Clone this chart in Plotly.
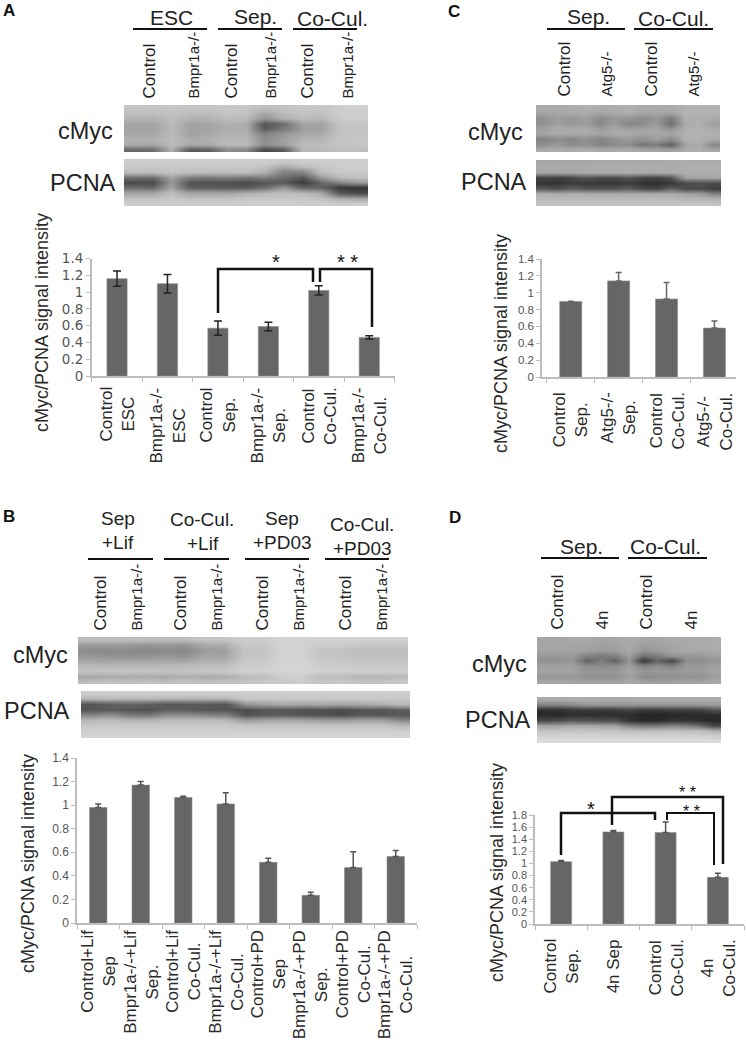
import plotly.graph_objects as go

FONT = "Liberation Sans"
INK = "#222222"
TICK = "#555555"
AXIS = "#bdbdbd"
BAR = "#666666"

# ---------- Bar chart data ----------
a_cats = ["Control<br>ESC", "Bmpr1a-/-<br>ESC", "Control<br>Sep.", "Bmpr1a-/-<br>Sep.", "Control<br>Co-Cul.", "Bmpr1a-/-<br>Co-Cul."]
a_vals = [1.16, 1.10, 0.57, 0.59, 1.02, 0.46]
a_errs = [0.09, 0.11, 0.085, 0.05, 0.055, 0.02]

b_cats = ["Control+Lif<br>Sep", "Bmpr1a-/-+Lif<br>Sep.", "Control+Lif<br>Co-Cul.", "Bmpr1a-/-+Lif<br>Co-Cul.",
          "Control+PD<br>Sep", "Bmpr1a-/-+PD<br>Sep.", "Control+PD<br>Co-Cul.", "Bmpr1a-/-+PD<br>Co-Cul."]
b_vals = [0.98, 1.17, 1.065, 1.01, 0.515, 0.235, 0.47, 0.565]
b_errs = [0.03, 0.03, 0.01, 0.095, 0.035, 0.025, 0.135, 0.05]

c_cats = ["Control<br>Sep.", "Atg5-/-<br>Sep.", "Control<br>Co-Cul.", "Atg5-/-<br>Co-Cul."]
c_vals = [0.895, 1.14, 0.925, 0.58]
c_errs = [0.005, 0.10, 0.195, 0.085]

d_cats = ["Control<br>Sep.", "4n Sep", "Control<br>Co-Cul.", "4n<br>Co-Cul."]
d_vals = [1.03, 1.52, 1.51, 0.77]
d_errs = [0.02, 0.025, 0.175, 0.07]

# ---------- Blot grey levels (rows top to bottom) ----------
a_cmyc = [
 [198,196,198,196,196,200,198,190,196,198,198,206,206],
 [192,192,196,190,190,198,194,170,188,196,194,206,206],
 [180,178,190,178,178,190,186,150,176,188,184,204,204],
 [166,164,186,164,166,176,174,85,110,164,164,196,198],
 [164,162,186,161,164,174,172,90,120,158,161,194,196],
 [166,166,186,161,166,178,176,130,150,166,172,194,196],
 [176,176,188,172,176,184,184,140,160,180,182,196,198],
 [170,165,188,170,172,186,186,140,160,188,188,196,198],
 [105,105,175,90,95,140,135,70,90,185,185,192,190],
]
a_pcna = [
 [205,205,205,205,205,205,205,205,200,205,205,205,205],
 [200,200,200,200,200,200,200,195,170,190,200,205,205],
 [190,190,195,190,190,190,190,175,130,130,190,200,200],
 [110,105,165,120,120,125,115,125,105,85,150,185,190],
 [75,75,150,85,80,80,75,85,90,60,100,130,150],
 [110,100,165,95,95,90,90,110,150,100,100,55,50],
 [165,165,190,165,165,165,175,185,190,185,170,90,75],
 [195,195,200,195,195,195,200,200,200,200,195,175,170],
 [205,205,205,205,205,205,205,205,205,205,205,205,205],
]
b_cmyc = [
 [190,190,190,190,190,190,196,196,205,205,210,210,208,208,208,208,208],
 [155,155,155,150,155,150,170,170,200,200,210,210,205,205,200,200,200],
 [140,138,140,135,140,135,157,157,195,195,210,210,195,195,190,190,190],
 [150,145,145,145,150,145,164,162,195,198,210,210,195,195,190,190,190],
 [167,162,164,164,167,164,178,173,200,200,210,212,200,200,195,195,195],
 [186,184,184,184,186,186,192,188,205,205,212,212,205,205,202,202,202],
 [195,195,195,195,195,195,198,198,208,208,212,212,208,208,206,206,206],
 [165,170,170,170,168,175,170,172,185,190,205,205,190,190,180,180,185],
 [190,195,190,195,190,195,190,195,195,200,200,205,195,200,195,195,200],
]
b_pcna = [
 [205,205,205,205,205,205,205,205,205,205,205,205,205,205,205,205,205],
 [180,185,185,185,180,180,180,180,200,200,200,200,200,200,200,200,200],
 [85,95,100,95,85,90,90,85,150,160,170,165,170,165,170,175,185],
 [85,90,85,80,95,90,85,85,75,85,85,80,80,75,85,85,95],
 [130,140,120,115,140,140,130,125,80,90,90,85,80,75,85,85,85],
 [180,185,175,175,185,185,185,180,150,160,165,160,150,150,155,155,130],
 [200,200,200,200,200,200,200,200,195,195,195,195,195,195,195,195,185],
 [208,208,208,208,208,208,208,208,208,208,208,208,208,208,208,208,205],
 [212,212,212,212,212,212,212,212,212,212,212,212,212,212,212,212,212],
]
c_cmyc = [
 [170,170,172,176,172,172,176,170,170,170,178,178,178],
 [165,168,170,172,165,170,176,165,168,165,178,178,178],
 [145,158,150,160,140,152,152,140,152,125,175,175,170],
 [145,160,153,157,135,157,130,140,157,110,170,175,157],
 [160,170,168,170,155,168,160,160,165,145,175,178,170],
 [165,170,170,170,165,170,172,165,168,165,178,178,178],
 [130,142,135,145,132,145,152,145,157,140,175,178,170],
 [142,155,140,146,132,140,145,115,125,95,162,170,135],
 [170,172,172,172,170,170,172,165,165,160,172,175,165],
]
c_pcna = [
 [165,165,165,168,168,168,170,168,168,170,172,172,172],
 [170,170,170,172,172,172,174,172,172,172,175,175,175],
 [165,165,165,170,170,170,172,170,170,170,175,175,175],
 [65,62,70,85,75,75,85,68,65,85,160,165,165],
 [55,52,60,58,55,55,60,50,50,55,75,80,75],
 [90,80,95,85,85,85,95,75,70,100,75,75,60],
 [175,170,175,172,170,172,172,170,170,172,160,155,130],
 [185,185,185,185,185,185,185,185,185,185,182,182,178],
 [195,195,195,195,195,195,195,195,195,195,195,195,195],
]
d_cmyc = [
 [165,165,168,168,165,165,170,165,165,170,170,170,172],
 [165,165,165,165,160,162,168,160,160,165,170,170,172],
 [165,165,165,162,155,158,168,150,155,165,168,168,170],
 [150,150,155,130,120,130,160,115,125,150,150,150,160],
 [145,145,150,100,125,95,150,55,100,70,140,140,150],
 [160,160,162,140,140,140,160,130,140,130,155,152,160],
 [162,162,162,150,150,150,165,150,152,152,155,155,165],
 [150,150,152,145,145,145,160,140,142,145,145,145,155],
 [165,165,165,160,160,160,170,160,160,160,162,162,170],
]
d_pcna = [
 [170,170,172,172,170,170,170,172,172,172,172,172,172],
 [130,130,140,150,150,150,150,150,150,150,150,150,155],
 [50,50,55,60,55,60,70,60,60,65,65,65,85],
 [40,40,45,45,45,45,45,35,35,40,40,40,45],
 [70,75,85,80,75,75,50,40,40,50,50,45,40],
 [165,165,170,170,165,165,130,120,125,135,125,110,70],
 [195,195,195,195,195,195,190,190,190,190,190,190,175],
 [210,210,210,210,210,210,210,210,210,210,210,210,205],
 [218,218,218,218,218,218,218,218,218,218,218,218,218],
]

W, H = 746, 1045
fig = go.Figure()
annots = []
shapes = []


def text(x, y, s, size, xa="center", ya="middle", angle=0, color=INK, bold=False, xref="x5", yref="y5", align="center"):
    annots.append(dict(x=x, y=y, text=f"<b>{s}</b>" if bold else s, xref=xref, yref=yref, showarrow=False,
                       xanchor=xa, yanchor=ya, textangle=angle, align=align,
                       font=dict(family=FONT, size=size, color=color)))


def line(pts, width=2, color="#111111"):
    path = "M" + " L".join(f"{x},{y}" for x, y in pts)
    shapes.append(dict(type="path", path=path, xref="x5", yref="y5",
                       line=dict(color=color, width=width), fillcolor="rgba(0,0,0,0)"))


# ---------- Bar charts on their own axes ----------
charts = [
 ("", a_cats, a_vals, a_errs, (91.8, 394.5), (258.5, 376), (-0.5, 5.5), 1.4, 0.40, ("DejaVu Sans", 13.5), "#222222", True, 385, 4),
 ("2", b_cats, b_vals, b_errs, (77, 417), (758, 923), (-0.5, 7.5), 1.4, 0.41, (FONT, 12), "#555555", False, 928, 3),
 ("3", c_cats, c_vals, c_errs, (542, 736), (259, 377), (-0.6, 3.45), 1.4, 0.46, (FONT, 11.5), "#666666", False, 390, 3),
 ("4", d_cats, d_vals, d_errs, (535, 744), (815, 924), (-0.5, 3.5), 1.8, 0.40, (FONT, 11), "#555555", False, 937, 3),
]
axes = {}
for sid, cats, vals, errs, xp, yp, xr, ymax, bw, tf, ec, both, ltop, cap in charts:
    err = dict(type="data", array=errs, color=ec, thickness=1.5, width=cap, visible=True)
    if both:
        err["symmetric"] = True
    else:
        err["symmetric"] = False
        err["arrayminus"] = [0] * len(errs)
    fig.add_trace(go.Bar(x=list(range(len(cats))), y=vals, width=bw, marker=dict(color=BAR, line=dict(color="#8a8a8a", width=0.6)),
                         error_y=err, xaxis="x" + sid, yaxis="y" + sid, showlegend=False, hoverinfo="skip"))
    axes["xaxis" + sid] = dict(domain=[xp[0] / W, xp[1] / W], range=list(xr), anchor="y" + sid, tickmode="array",
                               tickvals=[i - 0.5 for i in range(len(cats) + 1)], ticktext=[""] * (len(cats) + 1),
                               ticks="outside", ticklen=4, tickcolor=AXIS, showgrid=False, zeroline=False,
                               showline=True, linecolor=AXIS, linewidth=1.5, automargin=False)
    axes["yaxis" + sid] = dict(domain=[1 - yp[1] / H, 1 - yp[0] / H], range=[0, ymax], anchor="x" + sid, dtick=0.2,
                               ticks="outside", ticklen=4, tickcolor=AXIS, showgrid=False, zeroline=False,
                               showline=True, linecolor=AXIS, linewidth=1.5, automargin=False,
                               tickfont=dict(family=tf[0], size=tf[1], color=TICK))
    for i, c in enumerate(cats):
        text(i, ltop, c, 17, ya="top", angle=-90, xref="x" + sid, color="#2a2a2a")

# ---------- Blots on a page-sized overlay axis ----------
blots = [
 (a_cmyc, 124, 368, 105, 152), (a_pcna, 124, 368, 159, 206),
 (b_cmyc, 78, 408, 637, 684), (b_pcna, 81, 410, 691, 738),
 (c_cmyc, 536, 720, 105, 152), (c_pcna, 536, 721, 160, 206),
 (d_cmyc, 537, 721, 637, 684), (d_pcna, 537, 721, 697, 743),
]
for z, x0, x1, y0, y1 in blots:
    nr, nc = len(z), len(z[0])
    dx, dy = (x1 - x0) / nc, (y1 - y0) / nr
    fig.add_trace(go.Heatmap(z=z, x0=x0 + dx / 2, dx=dx, y0=y0 + dy / 2, dy=dy, zmin=0, zmax=255, zsmooth="best",
                             colorscale=[[0, "#000000"], [1, "#ffffff"]], showscale=False, hoverinfo="skip",
                             xaxis="x5", yaxis="y5"))
axes["xaxis5"] = dict(domain=[0, 1], range=[0, W], visible=False, anchor="y5", fixedrange=True, automargin=False)
axes["yaxis5"] = dict(domain=[0, 1], range=[H, 0], visible=False, anchor="x5", fixedrange=True, automargin=False)

# ---------- Panel letters, row labels, axis titles ----------
for s, x, y in [("A", 9, 10), ("B", 9, 516), ("C", 454, 11), ("D", 455, 517)]:
    text(x, y, s, 17, bold=True, color="#111111")
for s, x, y in [("cMyc", 115, 131), ("PCNA", 118, 183), ("cMyc", 70, 655), ("PCNA", 72, 711),
                ("cMyc", 525, 132), ("PCNA", 529, 182), ("cMyc", 529, 664), ("PCNA", 533, 720)]:
    text(x, y, s, 23.5, xa="right")
for x, y in [(42, 323), (28, 864), (501, 344), (497, 873)]:
    text(x, y, "cMyc/PCNA signal intensity", 18, angle=-90, color="#2a2a2a")

# ---------- Group headings and rules ----------
for s, x, y, sz in [("ESC", 171, 17, 21), ("Sep.", 255, 16, 21), ("Co-Cul.", 332, 18, 21),
                    ("Sep", 118, 518, 19), ("+Lif", 118, 542, 19), ("Co-Cul.", 202, 519, 19), ("+Lif", 203, 543, 19),
                    ("Sep", 282, 518, 19), ("+PD03", 282, 542, 19), ("Co-Cul.", 362, 524, 19), ("+PD03", 362, 548, 19),
                    ("Sep.", 588, 16, 21), ("Co-Cul.", 673, 18, 21),
                    ("Sep.", 581, 546, 21), ("Co-Cul.", 665, 546, 21)]:
    text(x, y, s, sz)
for x0, x1, y in [(133, 207, 29), (218, 282, 29), (293, 357, 29),
                  (88, 153, 559), (164, 229, 559), (245, 309, 559), (325, 389, 559),
                  (547, 625, 29), (634, 713, 29), (541, 619, 558), (628, 707, 558)]:
    line([(x0, y), (x1, y)], width=2)

# ---------- Lane labels ----------
for s, x, y, sz in [("Control", 149, 101, 17), ("Bmpr1a-/-", 193, 101, 15), ("Control", 231, 101, 17),
                    ("Bmpr1a-/-", 270, 101, 15), ("Control", 307, 101, 17), ("Bmpr1a-/-", 347, 101, 15),
                    ("Control", 100, 633, 17), ("Bmpr1a-/-", 136, 633, 15), ("Control", 180, 633, 17),
                    ("Bmpr1a-/-", 216, 633, 15), ("Control", 262, 633, 17), ("Bmpr1a-/-", 298, 633, 15),
                    ("Control", 345, 633, 17), ("Bmpr1a-/-", 381, 633, 15),
                    ("Control", 564, 99, 17), ("Atg5-/-", 606, 99, 15), ("Control", 651, 99, 17), ("Atg5-/-", 693, 99, 15),
                    ("Control", 557, 632, 17), ("4n", 602, 632, 17), ("Control", 646, 632, 17), ("4n", 691, 632, 17)]:
    text(x, y, s, sz, ya="bottom", angle=-90)

# ---------- Significance brackets ----------
line([(218, 313), (218, 269), (313, 269), (313, 282)], width=2.5)
line([(320, 282), (320, 269), (372, 269), (372, 327)], width=2.5)
line([(561, 855), (561, 813), (655, 813), (655, 820)], width=2.5)
line([(667, 820), (667, 813), (714, 813), (714, 865)], width=2)
line([(612, 825), (612, 797), (723, 797), (723, 864)], width=2.5)
for s, x, y, sz in [("*", 276, 262, 20), ("* *", 347, 262, 20), ("*", 591, 809, 20), ("* *", 687, 792, 16), ("* *", 691, 811, 16)]:
    text(x, y, s, sz, color="#111111")

fig.update_layout(width=W, height=H, margin=dict(l=0, r=0, t=0, b=0), paper_bgcolor="white", plot_bgcolor="rgba(0,0,0,0)",
                  autosize=False, showlegend=False, annotations=annots, shapes=shapes, **axes)
fig.write_html("out.html", post_script="document.body.style.margin='0';document.body.style.overflow='hidden';",
               config=dict(displayModeBar=False))
